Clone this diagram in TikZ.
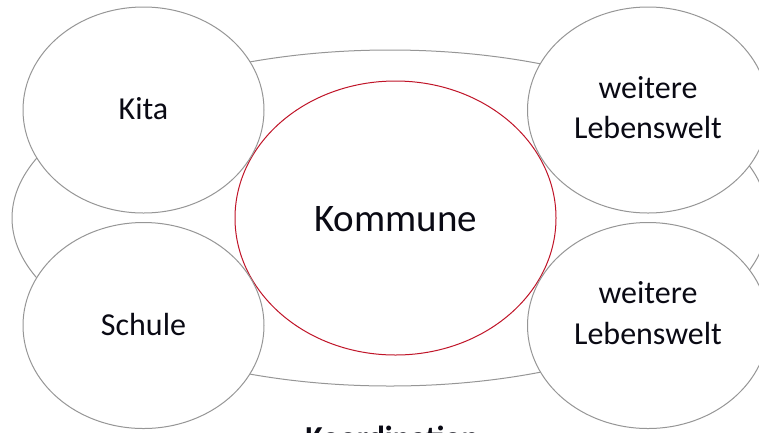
\documentclass[tikz,border=0pt]{standalone}
\usepackage{fontspec}
\setmainfont{Carlito}
\usetikzlibrary{shapes.geometric}
\definecolor{ringgray}{RGB}{150,150,150}
\definecolor{kommred}{RGB}{192,20,40}
\definecolor{txt}{RGB}{10,10,20}
\tikzset{
  ring/.style={ellipse, draw=ringgray, line width=1pt, fill=white, inner sep=0pt},
  world/.style={ring, minimum width=241pt, minimum height=206pt},
  lbl/.style={anchor=base, text=txt, font=\fontsize{32}{40}\selectfont, inner sep=0pt},
}
\begin{document}
\begin{tikzpicture}[x=1pt,y=-1pt]
\useasboundingbox (0,0) rectangle (759,432);
\clip (0,0) rectangle (759,432);
\node[ring, minimum width=756pt, minimum height=336pt] (outer) at (390,218) {};
\node[ellipse, draw=kommred, line width=1pt, fill=white, inner sep=0pt,
      minimum width=321pt, minimum height=274pt] (kommune) at (395.5,218) {};
\node[world] (kita) at (143.5,110) {};
\node[world] (schule) at (143.5,325.5) {};
\node[world] (welt1) at (648,110) {};
\node[world] (welt2) at (648,325.5) {};
\node[lbl] (tkita) at (143.5,119) {Kita};
\node[lbl] (tschule) at (143.5,335) {Schule};
\node[lbl] (tw1a) at (648,98) {weitere};
\node[lbl] (tw1b) at (648,138) {Lebenswelt};
\node[lbl] (tw2a) at (648,303) {weitere};
\node[lbl] (tw2b) at (648,344) {Lebenswelt};
\node[lbl, font=\fontsize{39}{46}\selectfont] (tkomm) at (395.5,231) {Kommune};
\node[lbl, font=\bfseries\fontsize{32}{40}\selectfont] (tkoord) at (392,448) {Koordination};
\end{tikzpicture}
\end{document}
